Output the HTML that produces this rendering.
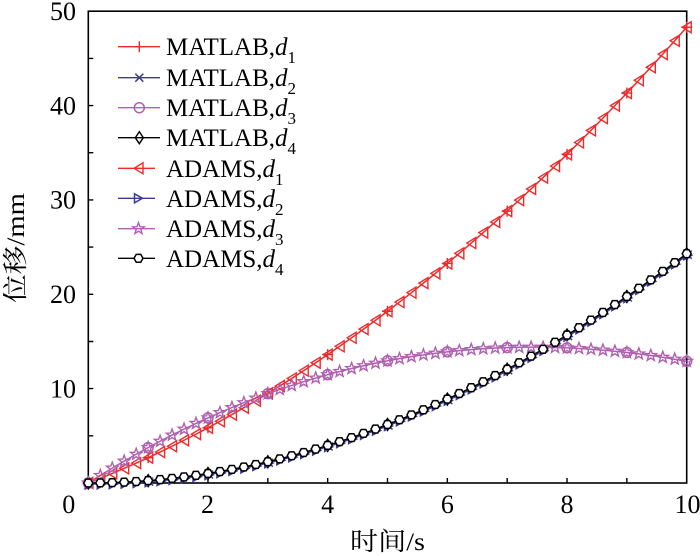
<!DOCTYPE html>
<html><head><meta charset="utf-8"><style>
html,body{margin:0;padding:0;background:#fff;}
svg{display:block;}
text{font-family:"Liberation Serif","Noto Serif CJK SC",serif;fill:#000;}
</style></head><body>
<svg width="700" height="556" viewBox="0 0 700 556" xmlns="http://www.w3.org/2000/svg">
<defs>
<marker id="mPlus" markerUnits="userSpaceOnUse" markerWidth="20" markerHeight="20" viewBox="-10 -10 20 20" refX="0" refY="0" overflow="visible"><path d="M-5.5,0H5.5M0,-5.5V5.5" stroke="#ee2b2b" stroke-width="1.4" fill="none"/></marker>
<marker id="mX" markerUnits="userSpaceOnUse" markerWidth="20" markerHeight="20" viewBox="-10 -10 20 20" refX="0" refY="0" overflow="visible"><path d="M-4,-4L4,4M-4,4L4,-4" stroke="#3c3c96" stroke-width="1.5" fill="none"/></marker>
<marker id="mO" markerUnits="userSpaceOnUse" markerWidth="20" markerHeight="20" viewBox="-10 -10 20 20" refX="0" refY="0" overflow="visible"><circle cx="0" cy="0" r="5" stroke="#b060b0" stroke-width="1.5" fill="none"/></marker>
<marker id="mD" markerUnits="userSpaceOnUse" markerWidth="20" markerHeight="20" viewBox="-10 -10 20 20" refX="0" refY="0" overflow="visible"><path d="M0,-6L4,0L0,6L-4,0Z" stroke="#000" stroke-width="1.4" fill="none"/></marker>
<marker id="mTL" markerUnits="userSpaceOnUse" markerWidth="20" markerHeight="20" viewBox="-10 -10 20 20" refX="0" refY="0" overflow="visible"><path d="M-4.5,0L4.5,-5.5L4.5,5.5Z" stroke="#ee2b2b" stroke-width="1.4" fill="none"/></marker>
<marker id="mTR" markerUnits="userSpaceOnUse" markerWidth="20" markerHeight="20" viewBox="-10 -10 20 20" refX="0" refY="0" overflow="visible"><path d="M4,0L-4,-4.5L-4,4.5Z" stroke="#3c3c96" stroke-width="1.5" fill="none"/></marker>
<marker id="mS" markerUnits="userSpaceOnUse" markerWidth="20" markerHeight="20" viewBox="-10 -10 20 20" refX="0" refY="0" overflow="visible"><path d="M0,-6L1.47,-2.02L5.71,-1.85L2.38,0.77L3.53,4.85L0,2.5L-3.53,4.85L-2.38,0.77L-5.71,-1.85L-1.47,-2.02Z" stroke="#b060b0" stroke-width="1.4" fill="none"/></marker>
<marker id="mH" markerUnits="userSpaceOnUse" markerWidth="20" markerHeight="20" viewBox="-10 -10 20 20" refX="0" refY="0" overflow="visible"><path d="M4.5,0L2.25,3.9L-2.25,3.9L-4.5,0L-2.25,-3.9L2.25,-3.9Z" stroke="#000" stroke-width="1.5" fill="#fff"/></marker>
</defs>

<!-- Axes frame -->
<rect x="88.3" y="11.2" width="598.4" height="471.8" fill="none" stroke="#000" stroke-width="1.6"/>
<!-- x ticks -->
<path d="M148.14,483v-5M207.98,483v-5M267.82,483v-5M327.66,483v-5M387.5,483v-5M447.34,483v-5M507.18,483v-5M567.02,483v-5M626.86,483v-5" stroke="#000" stroke-width="1.4"/>
<!-- y ticks -->
<path d="M88.3,58.4h5M88.3,105.56h5M88.3,152.7h5M88.3,199.9h5M88.3,247.1h5M88.3,294.3h5M88.3,341.5h5M88.3,388.6h5M88.3,435.8h5" stroke="#000" stroke-width="1.4"/>

<!-- tick labels -->
<g font-size="26">
<text x="76" y="20" text-anchor="end">50</text>
<text x="76" y="114.4" text-anchor="end">40</text>
<text x="76" y="208.7" text-anchor="end">30</text>
<text x="76" y="303.1" text-anchor="end">20</text>
<text x="76" y="397.4" text-anchor="end">10</text>
<text x="68.8" y="513" text-anchor="middle">0</text>
<text x="207.5" y="513" text-anchor="middle">2</text>
<text x="327.66" y="513" text-anchor="middle">4</text>
<text x="447.34" y="513" text-anchor="middle">6</text>
<text x="567.02" y="513" text-anchor="middle">8</text>
<text x="687.5" y="513" text-anchor="middle">10</text>
</g>

<!-- axis titles -->
<text x="387.5" y="550" font-size="25" text-anchor="middle" textLength="75" lengthAdjust="spacingAndGlyphs">时间/s</text>
<text transform="translate(24,248) rotate(-90)" font-size="25" text-anchor="middle" textLength="110" lengthAdjust="spacingAndGlyphs">位移/mm</text>

<!-- MATLAB d1 line -->
<polyline fill="none" stroke="#ee2b2b" stroke-width="1.5" points="88.3,483 100.27,478.29 112.24,473.39 124.2,468.32 136.17,463.07 148.14,457.64 160.11,452.02 172.08,446.23 184.04,440.26 196.01,434.11 207.98,427.78 219.95,421.27 231.92,414.58 243.88,407.71 255.85,400.66 267.82,393.43 279.79,386.03 291.76,378.44 303.72,370.67 315.69,362.72 327.66,354.6 339.63,346.29 351.6,337.8 363.56,329.14 375.53,320.29 387.5,311.26 399.47,302.06 411.44,292.68 423.4,283.11 435.37,273.37 447.34,263.44 459.31,253.34 471.28,243.06 483.24,232.59 495.21,221.95 507.18,211.13 519.15,200.13 531.12,188.95 543.08,177.59 555.05,166.05 567.02,154.33 578.99,142.43 590.96,130.35 602.92,118.09 614.89,105.65 626.86,93.03 638.83,80.23 650.8,67.25 662.76,54.1 674.73,40.76 686.7,27.24"/>
<polyline fill="none" stroke="none" marker-start="url(#mPlus)" marker-mid="url(#mPlus)" marker-end="url(#mPlus)" points="88.3,483 148.14,457.64 207.98,427.78 267.82,393.43 327.66,354.6 387.5,311.26 447.34,263.44 507.18,211.13 567.02,154.33 626.86,93.03 686.7,27.24"/>

<!-- MATLAB d2 (blue) -->
<g transform="translate(1,1)">
<polyline fill="none" stroke="#3c3c96" stroke-width="1.5" points="88.3,483 100.27,482.9 112.24,482.62 124.2,482.14 136.17,481.48 148.14,480.62 160.11,479.58 172.08,478.35 184.04,476.93 196.01,475.32 207.98,473.53 219.95,471.55 231.92,469.38 243.88,467.03 255.85,464.49 267.82,461.77 279.79,458.86 291.76,455.77 303.72,452.5 315.69,449.04 327.66,445.41 339.63,441.59 351.6,437.59 363.56,433.4 375.53,429.04 387.5,424.5 399.47,419.77 411.44,414.87 423.4,409.79 435.37,404.53 447.34,399.1 459.31,393.48 471.28,387.69 483.24,381.72 495.21,375.58 507.18,369.26 519.15,362.76 531.12,356.09 543.08,349.25 555.05,342.23 567.02,335.04 578.99,327.68 590.96,320.14 602.92,312.44 614.89,304.56 626.86,296.51 638.83,288.29 650.8,279.89 662.76,271.34 674.73,262.6 686.7,253.71"/>
<polyline fill="none" stroke="none" marker-start="url(#mX)" marker-mid="url(#mX)" marker-end="url(#mX)" points="88.3,483 148.14,480.62 207.98,473.53 267.82,461.77 327.66,445.41 387.5,424.5 447.34,399.1 507.18,369.26 567.02,335.04 626.86,296.51 686.7,253.71"/>
</g>

<!-- MATLAB d3 (pink) -->
<polyline fill="none" stroke="#b060b0" stroke-width="1.5" points="88.3,483 100.27,475.46 112.24,468.15 124.2,461.08 136.17,454.23 148.14,447.61 160.11,441.22 172.08,435.05 184.04,429.11 196.01,423.39 207.98,417.89 219.95,412.6 231.92,407.54 243.88,402.69 255.85,398.05 267.82,393.63 279.79,389.42 291.76,385.42 303.72,381.63 315.69,378.04 327.66,374.66 339.63,371.49 351.6,368.51 363.56,365.74 375.53,363.17 387.5,360.79 399.47,358.61 411.44,356.63 423.4,354.84 435.37,353.24 447.34,351.83 459.31,350.61 471.28,349.57 483.24,348.73 495.21,348.06 507.18,347.59 519.15,347.28 531.12,347.17 543.08,347.22 555.05,347.46 567.02,347.87 578.99,348.45 590.96,349.21 602.92,350.13 614.89,351.23 626.86,352.49 638.83,353.92 650.8,355.52 662.76,357.28 674.73,359.2 686.7,361.28"/>
<polyline fill="none" stroke="none" marker-start="url(#mO)" marker-mid="url(#mO)" marker-end="url(#mO)" points="88.3,483 148.14,447.61 207.98,417.89 267.82,393.63 327.66,374.66 387.5,360.79 447.34,351.83 507.18,347.59 567.02,347.87 626.86,352.49 686.7,361.28"/>

<!-- MATLAB d4 (black) -->
<polyline fill="none" stroke="#000" stroke-width="1.5" points="88.3,483 100.27,482.9 112.24,482.62 124.2,482.14 136.17,481.48 148.14,480.62 160.11,479.58 172.08,478.35 184.04,476.93 196.01,475.32 207.98,473.53 219.95,471.55 231.92,469.38 243.88,467.03 255.85,464.49 267.82,461.77 279.79,458.86 291.76,455.77 303.72,452.5 315.69,449.04 327.66,445.41 339.63,441.59 351.6,437.59 363.56,433.4 375.53,429.04 387.5,424.5 399.47,419.77 411.44,414.87 423.4,409.79 435.37,404.53 447.34,399.1 459.31,393.48 471.28,387.69 483.24,381.72 495.21,375.58 507.18,369.26 519.15,362.76 531.12,356.09 543.08,349.25 555.05,342.23 567.02,335.04 578.99,327.68 590.96,320.14 602.92,312.44 614.89,304.56 626.86,296.51 638.83,288.29 650.8,279.89 662.76,271.34 674.73,262.6 686.7,253.71"/>
<polyline fill="none" stroke="none" marker-start="url(#mD)" marker-mid="url(#mD)" marker-end="url(#mD)" points="88.3,483 148.14,480.62 207.98,473.53 267.82,461.77 327.66,445.41 387.5,424.5 447.34,399.1 507.18,369.26 567.02,335.04 626.86,296.51 686.7,253.71"/>

<!-- ADAMS d1 (red triangles) -->
<polyline fill="none" stroke="none" marker-start="url(#mTL)" marker-mid="url(#mTL)" marker-end="url(#mTL)" points="88.3,483 100.27,478.29 112.24,473.39 124.2,468.32 136.17,463.07 148.14,457.64 160.11,452.02 172.08,446.23 184.04,440.26 196.01,434.11 207.98,427.78 219.95,421.27 231.92,414.58 243.88,407.71 255.85,400.66 267.82,393.43 279.79,386.03 291.76,378.44 303.72,370.67 315.69,362.72 327.66,354.6 339.63,346.29 351.6,337.8 363.56,329.14 375.53,320.29 387.5,311.26 399.47,302.06 411.44,292.68 423.4,283.11 435.37,273.37 447.34,263.44 459.31,253.34 471.28,243.06 483.24,232.59 495.21,221.95 507.18,211.13 519.15,200.13 531.12,188.95 543.08,177.59 555.05,166.05 567.02,154.33 578.99,142.43 590.96,130.35 602.92,118.09 614.89,105.65 626.86,93.03 638.83,80.23 650.8,67.25 662.76,54.1 674.73,40.76 686.7,27.24"/>

<!-- ADAMS d2 (blue right triangles) -->
<g transform="translate(1,1.5)">
<polyline fill="none" stroke="none" marker-start="url(#mTR)" marker-mid="url(#mTR)" marker-end="url(#mTR)" points="88.3,483 100.27,482.9 112.24,482.62 124.2,482.14 136.17,481.48 148.14,480.62 160.11,479.58 172.08,478.35 184.04,476.93 196.01,475.32 207.98,473.53 219.95,471.55 231.92,469.38 243.88,467.03 255.85,464.49 267.82,461.77 279.79,458.86 291.76,455.77 303.72,452.5 315.69,449.04 327.66,445.41 339.63,441.59 351.6,437.59 363.56,433.4 375.53,429.04 387.5,424.5 399.47,419.77 411.44,414.87 423.4,409.79 435.37,404.53 447.34,399.1 459.31,393.48 471.28,387.69 483.24,381.72 495.21,375.58 507.18,369.26 519.15,362.76 531.12,356.09 543.08,349.25 555.05,342.23 567.02,335.04 578.99,327.68 590.96,320.14 602.92,312.44 614.89,304.56 626.86,296.51 638.83,288.29 650.8,279.89 662.76,271.34 674.73,262.6 686.7,253.71"/>
</g>

<!-- ADAMS d3 (pink stars) -->
<polyline fill="none" stroke="none" marker-start="url(#mS)" marker-mid="url(#mS)" marker-end="url(#mS)" points="88.3,483 100.27,475.46 112.24,468.15 124.2,461.08 136.17,454.23 148.14,447.61 160.11,441.22 172.08,435.05 184.04,429.11 196.01,423.39 207.98,417.89 219.95,412.6 231.92,407.54 243.88,402.69 255.85,398.05 267.82,393.63 279.79,389.42 291.76,385.42 303.72,381.63 315.69,378.04 327.66,374.66 339.63,371.49 351.6,368.51 363.56,365.74 375.53,363.17 387.5,360.79 399.47,358.61 411.44,356.63 423.4,354.84 435.37,353.24 447.34,351.83 459.31,350.61 471.28,349.57 483.24,348.73 495.21,348.06 507.18,347.59 519.15,347.28 531.12,347.17 543.08,347.22 555.05,347.46 567.02,347.87 578.99,348.45 590.96,349.21 602.92,350.13 614.89,351.23 626.86,352.49 638.83,353.92 650.8,355.52 662.76,357.28 674.73,359.2 686.7,361.28"/>

<!-- ADAMS d4 (black hexagons) -->
<polyline fill="none" stroke="none" marker-start="url(#mH)" marker-mid="url(#mH)" marker-end="url(#mH)" points="88.3,483 100.27,482.9 112.24,482.62 124.2,482.14 136.17,481.48 148.14,480.62 160.11,479.58 172.08,478.35 184.04,476.93 196.01,475.32 207.98,473.53 219.95,471.55 231.92,469.38 243.88,467.03 255.85,464.49 267.82,461.77 279.79,458.86 291.76,455.77 303.72,452.5 315.69,449.04 327.66,445.41 339.63,441.59 351.6,437.59 363.56,433.4 375.53,429.04 387.5,424.5 399.47,419.77 411.44,414.87 423.4,409.79 435.37,404.53 447.34,399.1 459.31,393.48 471.28,387.69 483.24,381.72 495.21,375.58 507.18,369.26 519.15,362.76 531.12,356.09 543.08,349.25 555.05,342.23 567.02,335.04 578.99,327.68 590.96,320.14 602.92,312.44 614.89,304.56 626.86,296.51 638.83,288.29 650.8,279.89 662.76,271.34 674.73,262.6 686.7,253.71"/>

<!-- Legend -->
<g stroke-width="1.4" fill="none">
<polyline points="118,46.7 139.3,46.7 160,46.7" stroke="#ee2b2b" marker-mid="url(#mPlus)"/>
<polyline points="118,77.7 139.3,77.7 160,77.7" stroke="#3c3c96" marker-mid="url(#mX)"/>
<polyline points="118,107.7 139.3,107.7 160,107.7" stroke="#b060b0" marker-mid="url(#mO)"/>
<polyline points="118,137.7 139.3,137.7 160,137.7" stroke="#000" marker-mid="url(#mD)"/>
<polyline points="118,168.3 138.5,168.3 155,168.3" stroke="#ee2b2b" marker-mid="url(#mTL)"/>
<polyline points="118,198.3 138.5,198.3 155,198.3" stroke="#3c3c96" marker-mid="url(#mTR)"/>
<polyline points="118,228.7 138.5,228.7 155,228.7" stroke="#b060b0" marker-mid="url(#mS)"/>
<polyline points="118,258.3 138.5,258.3 155,258.3" stroke="#000" marker-mid="url(#mH)"/>
</g>
<g font-size="25">
<text x="166" y="55.2">MATLAB,<tspan font-style="italic">d</tspan><tspan font-size="17" dy="8">1</tspan></text>
<text x="166" y="86.2">MATLAB,<tspan font-style="italic">d</tspan><tspan font-size="17" dy="8">2</tspan></text>
<text x="166" y="116.2">MATLAB,<tspan font-style="italic">d</tspan><tspan font-size="17" dy="8">3</tspan></text>
<text x="166" y="146.2">MATLAB,<tspan font-style="italic">d</tspan><tspan font-size="17" dy="8">4</tspan></text>
<text x="166" y="176.8">ADAMS,<tspan font-style="italic">d</tspan><tspan font-size="17" dy="8">1</tspan></text>
<text x="166" y="206.8">ADAMS,<tspan font-style="italic">d</tspan><tspan font-size="17" dy="8">2</tspan></text>
<text x="166" y="237.2">ADAMS,<tspan font-style="italic">d</tspan><tspan font-size="17" dy="8">3</tspan></text>
<text x="166" y="266.8">ADAMS,<tspan font-style="italic">d</tspan><tspan font-size="17" dy="8">4</tspan></text>
</g>
</svg>
</body></html>
